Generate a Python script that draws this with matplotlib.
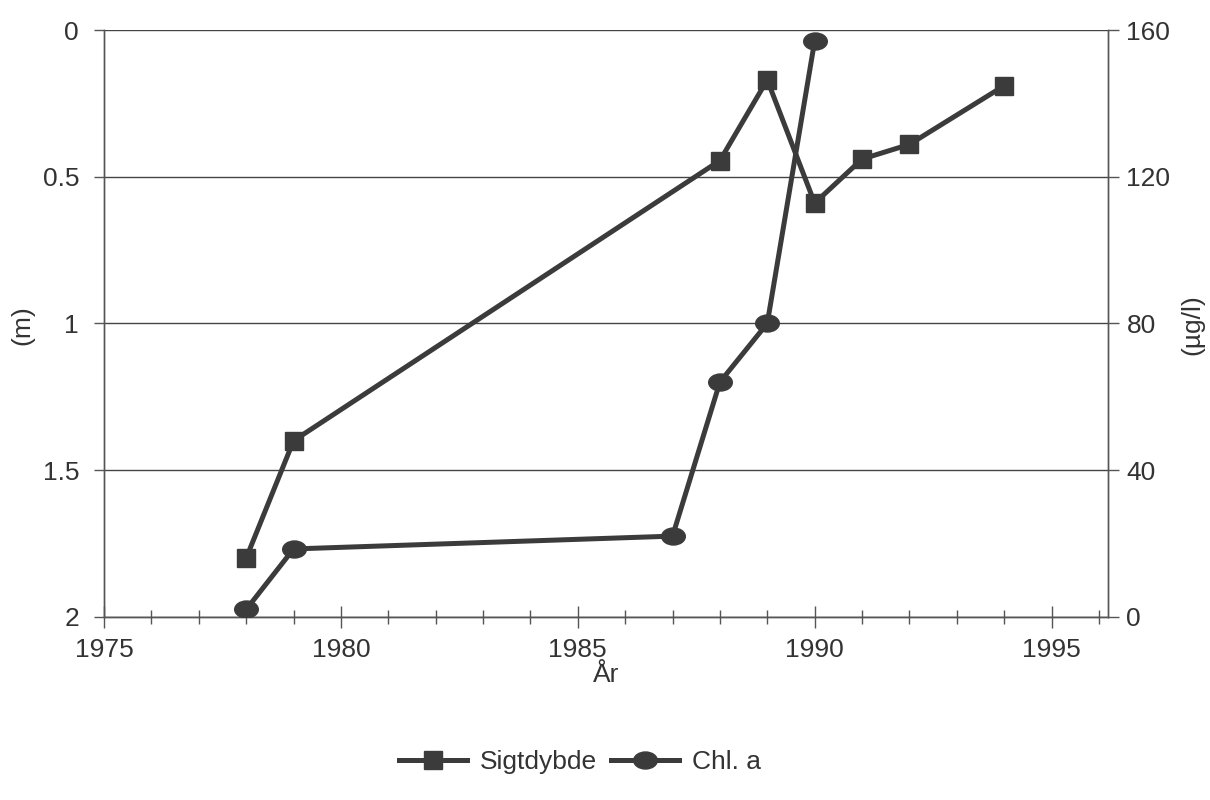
import matplotlib
matplotlib.use('Agg')
import matplotlib.pyplot as plt
from matplotlib.path import Path
from matplotlib.transforms import Affine2D
from matplotlib.ticker import MultipleLocator

plt.rcParams['font.family'] = ['Liberation Sans', 'DejaVu Sans']

# data
sigt_years = [1978, 1979, 1988, 1989, 1990, 1991, 1992, 1994]
sigtdybde = [1.80, 1.40, 0.445, 0.17, 0.59, 0.44, 0.39, 0.19]   # (m)
chl_years = [1978, 1979, 1987, 1988, 1989, 1990]
chl_a = [2, 18.5, 22, 64, 80, 157]                               # (ug/l)

left_ticks = [0, 0.5, 1, 1.5, 2]
left_labels = ['0', '0.5', '1', '1.5', '2']
right_ticks = [0, 40, 80, 120, 160]
year_ticks = [1975, 1980, 1985, 1990, 1995]

ink = '#3b3b3b'
txt = '#333333'
fs = 19
ellipse = Path.unit_circle().transformed(Affine2D().scale(1.0, 0.72))

fig = plt.figure(figsize=(12.1, 8), dpi=100)
ax = fig.add_axes([0.086, 0.229, 0.83, 0.7335])
ax2 = ax.twinx()

l1, = ax.plot(sigt_years, sigtdybde, color=ink, lw=3.6, marker='s',
              markersize=13.5, markeredgecolor=ink, markerfacecolor=ink, zorder=3)
l2, = ax2.plot(chl_years, chl_a, color=ink, lw=3.6, marker=ellipse,
               markersize=17, markeredgecolor=ink, markerfacecolor=ink, zorder=3)

ax.set_xlim(1975, 1996.2)
ax.set_ylim(2, 0)
ax2.set_ylim(0, 160)

ax.set_yticks(left_ticks)
ax.set_yticklabels(left_labels)
ax2.set_yticks(right_ticks)
ax.set_xticks(year_ticks)
ax.xaxis.set_minor_locator(MultipleLocator(1))

ax.grid(axis='y', color='#444444', lw=1.0)
ax.set_axisbelow(True)

for a in (ax, ax2):
    a.spines['top'].set_visible(False)
    for s in ('left', 'right', 'bottom'):
        a.spines[s].set_color('#555555')
        a.spines[s].set_linewidth(1.0)

ax.tick_params(axis='x', which='major', direction='inout', length=16, width=1,
               color='#555555', labelsize=fs, labelcolor=txt, pad=7)
ax.tick_params(axis='x', which='minor', direction='inout', length=10, width=1,
               color='#555555')
ax.tick_params(axis='y', direction='out', length=7, width=1, color='#555555',
               labelsize=fs, labelcolor=txt, pad=11)
ax2.tick_params(axis='y', direction='out', length=8, width=1, color='#555555',
                labelsize=fs, labelcolor=txt, pad=5)

fig.text(22 / 1210, 1 - 325 / 800, '(m)', rotation=90, ha='center', va='center',
         fontsize=fs, color=txt)
fig.text(1192 / 1210, 1 - 325 / 800, '(µg/l)', rotation=90, ha='center',
         va='center', fontsize=fs, color=txt)
fig.text(606 / 1210, 1 - 663 / 800, 'År', ha='center', va='top',
         fontsize=fs, color=txt)

fig.legend([l1, l2], ['Sigtdybde', 'Chl. a'], loc='center',
           bbox_to_anchor=(580 / 1210, 1 - 762 / 800), ncol=2, frameon=False,
           fontsize=fs, handlelength=2.6, handletextpad=0.5, columnspacing=0.5,
           labelcolor=txt)

fig.savefig('out.png', dpi=100)
